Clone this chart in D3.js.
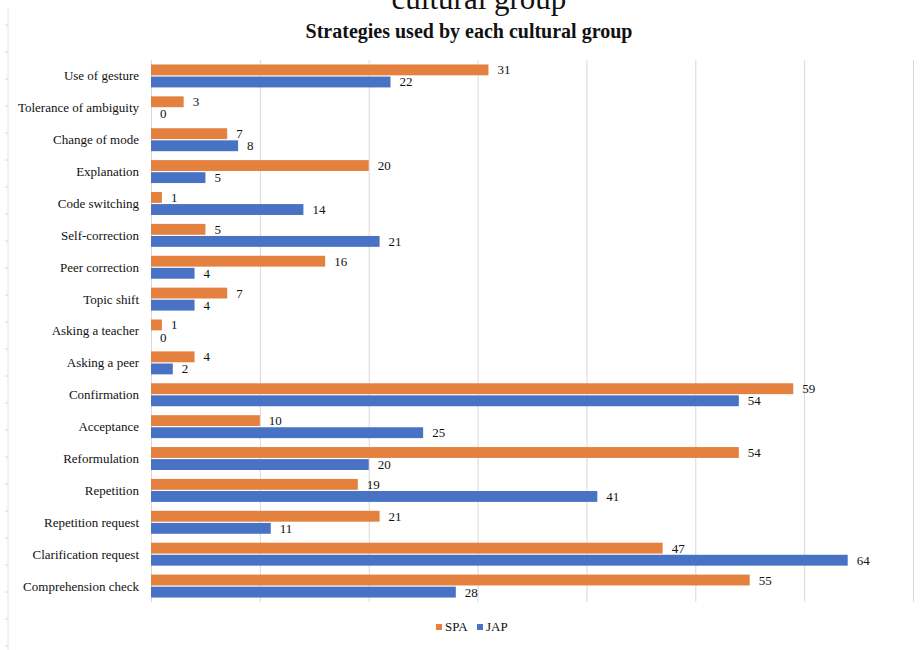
<!DOCTYPE html>
<html><head><meta charset="utf-8">
<script src="https://cdn.jsdelivr.net/npm/d3@7"></script>
<style>body{margin:0;background:#fff}svg{display:block}text{font-family:"Liberation Serif","Times New Roman",serif}</style>
</head><body>
<script>
const categories = ["Use of gesture","Tolerance of ambiguity","Change of mode","Explanation","Code switching","Self-correction","Peer correction","Topic shift","Asking a teacher","Asking a peer","Confirmation","Acceptance","Reformulation","Repetition","Repetition request","Clarification request","Comprehension check"];
const spa = [31,3,7,20,1,5,16,7,1,4,59,10,54,19,21,47,55];
const jap = [22,0,8,5,14,21,4,4,0,2,54,25,20,41,11,64,28];
const seriesNames = ["SPA","JAP"];
const xTicks = [0,10,20,30,40,50,60,70];
const colors = {SPA:"#E5813F", JAP:"#4872C4"};

const W=920,H=650;
const svg=d3.select("body").append("svg").attr("width",W).attr("height",H);
const m={left:151,right:7,top:60,bottom:48};
const x=d3.scaleLinear().domain([0,70]).range([m.left,913]);
const y=d3.scaleBand().domain(categories).range([m.top,H-m.bottom]).paddingInner(0.28).paddingOuter(0.14);
const sub=d3.scaleBand().domain(seriesNames).range([0,y.bandwidth()]).paddingInner(0.1);

// faint left border line with ticks
svg.append("line").attr("x1",8).attr("x2",8).attr("y1",8).attr("y2",H).attr("stroke","#e4e4e4");
d3.range(25,H,27).forEach(t=>svg.append("line").attr("x1",5).attr("x2",8).attr("y1",t).attr("y2",t).attr("stroke","#d8d8d8"));

// partial big title (cut off at the top, as in the reference)
svg.append("text").attr("x",479).attr("y",9).attr("text-anchor","middle").attr("font-size",31).attr("fill","#111").text("cultural group");
svg.append("text").attr("x",469).attr("y",38).attr("text-anchor","middle").attr("font-size",20).attr("font-weight","bold").attr("fill","#111").text("Strategies used by each cultural group");

// gridlines
svg.append("g").selectAll("line").data(xTicks).join("line")
 .attr("x1",d=>x(d)+0.5).attr("x2",d=>x(d)+0.5).attr("y1",m.top).attr("y2",H-m.bottom)
 .attr("stroke","#d9d9d9");

const rows=categories.map((c,i)=>({c,vals:[{s:"SPA",v:spa[i]},{s:"JAP",v:jap[i]}]}));
const g=svg.append("g").selectAll("g").data(rows).join("g").attr("transform",d=>`translate(0,${y(d.c)})`);
g.selectAll("rect").data(d=>d.vals).join("rect")
 .attr("x",x(0)).attr("y",d=>sub(d.s)).attr("width",d=>x(d.v)-x(0)).attr("height",sub.bandwidth())
 .attr("fill",d=>colors[d.s]);
g.selectAll("text.v").data(d=>d.vals).join("text").attr("class","v")
 .attr("x",d=>x(d.v)+9).attr("y",d=>sub(d.s)+sub.bandwidth()/2+4.5)
 .attr("font-size",13).attr("fill","#111").text(d=>d.v);
g.append("text").attr("x",139).attr("y",y.bandwidth()/2+4.5).attr("text-anchor","end")
 .attr("font-size",13).attr("fill","#111").text(d=>d.c);

// legend
const lg=svg.append("g").attr("transform","translate(436,631)");
const items=[{s:"SPA",x:0},{s:"JAP",x:41}];
items.forEach(it=>{
  lg.append("rect").attr("x",it.x).attr("y",-7).attr("width",6).attr("height",6).attr("fill",colors[it.s]);
  lg.append("text").attr("x",it.x+9).attr("y",0).attr("font-size",13).attr("fill","#111").text(it.s);
});
</script>
</body></html>
